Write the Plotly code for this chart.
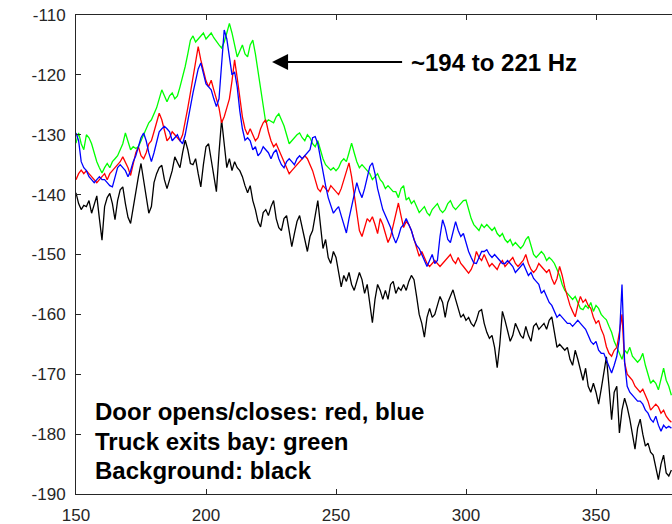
import plotly.graph_objects as go

# Frequency grid (Hz), one reading per Hz
freq = list(range(150, 380))

# Background spectrum (dB)
background = [
    -139.7, -141.5, -142.5, -141.8, -142.0, -141.0, -143.1, -141.5, -140.2, -144.0,
    -147.6, -142.0, -140.5, -139.8, -141.5, -144.2, -141.0, -139.2, -138.7, -141.5,
    -143.8, -144.8, -142.0, -140.0, -137.0, -134.8, -137.5, -140.5, -143.1, -142.0,
    -138.0, -136.5, -135.5, -135.1, -137.5, -139.0, -137.5, -136.0, -133.7, -134.5,
    -135.5, -133.0, -130.9, -132.5, -134.8, -135.0, -134.0, -136.5, -138.7, -135.0,
    -132.0, -131.5, -134.0, -136.5, -139.5, -133.0, -127.5, -131.5, -135.5, -134.0,
    -136.0, -134.5, -135.5, -136.0, -137.0, -138.5, -139.7, -138.5, -141.0, -142.5,
    -144.5, -145.4, -143.0, -142.5, -143.5, -142.0, -141.0, -144.0, -145.5, -146.0,
    -144.0, -143.5, -146.0, -148.7, -146.5, -144.5, -143.5, -145.5, -147.5, -149.5,
    -147.0, -146.0, -143.5, -141.0, -145.0, -149.0, -147.5, -150.5, -151.5, -149.5,
    -150.5, -153.0, -155.4, -153.5, -154.5, -153.0, -155.0, -156.0, -154.5, -153.0,
    -154.2, -156.5, -155.0, -158.0, -161.4, -157.5, -155.0, -156.0, -157.5, -156.0,
    -157.5, -155.0, -154.5, -156.5, -155.5, -156.0, -155.0, -156.0, -154.5, -153.5,
    -154.2, -157.0, -160.0, -161.5, -163.8, -160.5, -159.0, -160.5, -160.0, -158.5,
    -157.0, -158.0, -160.5, -158.0, -157.0, -155.9, -157.5, -159.0, -160.5, -160.0,
    -161.0, -160.5, -161.5, -162.0, -161.0, -159.5, -159.2, -161.5, -163.0, -164.0,
    -163.5, -165.5, -168.9, -165.0, -159.5, -161.0, -163.0, -164.5, -163.5, -161.5,
    -162.5, -163.5, -164.0, -162.0, -163.5, -164.5, -162.0, -161.5, -162.5, -162.0,
    -161.5, -162.5, -161.0, -160.4, -163.0, -165.5, -165.0, -165.5, -166.0, -165.5,
    -167.5, -168.5, -166.0, -167.5, -169.5, -171.0, -169.0, -172.0, -173.0, -171.5,
    -173.0, -175.0, -172.5, -170.0, -167.1, -172.0, -177.6, -173.0, -172.0, -179.8,
    -176.0, -174.0, -175.5, -177.5, -180.0, -182.5, -179.0, -177.5, -180.0, -182.0,
    -181.5, -183.0, -183.5, -185.5, -187.6, -185.0, -183.5, -186.5, -187.0, -186.0,
]

# Truck exiting the bay (dB)
truck = [
    -131.4, -129.7, -131.5, -132.5, -130.0, -130.5, -131.5, -133.0, -134.5, -135.5,
    -136.4, -135.5, -134.8, -135.5, -134.5, -134.0, -133.5, -132.5, -131.5, -129.7,
    -131.0, -132.5, -132.0, -132.3, -132.0, -131.0, -129.8, -129.0, -128.0, -127.5,
    -126.5, -125.5, -124.0, -122.5, -123.5, -124.5, -123.5, -123.0, -124.0, -123.5,
    -122.0, -120.5, -118.6, -116.5, -114.2, -113.5, -114.5, -114.0, -113.5, -113.0,
    -114.0, -113.5, -113.0, -113.8, -114.5, -115.0, -115.5, -114.5, -113.0, -111.4,
    -113.0, -115.0, -117.0, -116.0, -115.0, -116.5, -117.0, -115.0, -114.2, -116.5,
    -119.5, -122.0, -125.5, -128.0, -127.5, -127.8, -128.0, -127.0, -126.5, -127.5,
    -128.5, -130.0, -131.5, -131.0, -130.5, -130.0, -129.7, -130.5, -131.0, -130.0,
    -130.5, -131.5, -132.0, -131.0, -132.5, -134.0, -135.0, -135.5, -135.9, -135.5,
    -136.0, -135.5, -134.5, -134.0, -134.5, -133.0, -131.4, -133.0, -134.5, -135.5,
    -135.0, -135.5, -136.0, -136.5, -137.5, -137.0, -136.5, -137.5, -138.0, -139.0,
    -138.5, -139.0, -139.5, -139.5, -140.5, -139.0, -138.5, -140.9, -140.5, -141.5,
    -141.0, -142.0, -143.0, -142.5, -142.0, -143.0, -143.5, -142.5, -142.0, -141.5,
    -142.5, -143.0, -142.5, -141.5, -141.0, -142.0, -142.5, -142.0, -141.5, -141.0,
    -140.9, -142.5, -144.0, -145.0, -145.5, -146.0, -145.0, -145.5, -145.0, -145.5,
    -146.0, -145.5, -146.5, -147.0, -146.5, -147.5, -148.0, -147.5, -148.5, -148.0,
    -148.5, -149.0, -148.5, -147.5, -147.0, -148.5, -150.0, -150.5, -150.0, -149.5,
    -150.0, -151.0, -150.5, -150.9, -151.5, -152.6, -153.5, -155.0, -156.0, -156.5,
    -157.0, -157.5, -157.0, -158.0, -159.0, -159.2, -158.5, -159.0, -158.0, -159.5,
    -158.5, -159.0, -160.0, -160.5, -160.9, -162.0, -163.0, -164.5, -165.4, -166.5,
    -167.5, -166.0, -166.5, -165.5, -167.0, -167.6, -168.0, -167.5, -166.5, -168.5,
    -170.0, -171.5, -171.0, -171.5, -172.6, -170.5, -169.0, -171.0, -172.0, -173.5,
]

# Door opening/closing, first event (dB)
door_red = [
    -137.5, -136.5, -135.9, -136.5, -136.0, -136.5, -137.0, -137.5, -138.0, -137.5,
    -137.0, -136.5, -137.5, -136.5, -136.0, -135.5, -135.0, -134.5, -133.7, -134.5,
    -135.5, -136.8, -135.0, -133.0, -132.0, -133.5, -134.0, -133.0, -131.5, -131.0,
    -129.5, -128.0, -126.4, -127.5, -129.5, -131.0, -130.5, -129.5, -130.0, -130.5,
    -131.0, -130.0, -128.0, -125.5, -123.0, -120.5, -118.5, -115.3, -117.5, -119.5,
    -121.0, -122.0, -120.9, -122.5, -124.0, -125.5, -128.0, -127.0, -125.5, -124.0,
    -121.0, -117.5, -120.5, -124.0, -127.0, -129.0, -130.0, -129.0, -130.0, -131.0,
    -130.5, -129.0, -128.0, -127.5, -129.5, -131.0, -132.0, -131.5, -132.5, -133.5,
    -134.5, -135.5, -136.5, -136.0, -135.5, -135.0, -134.5, -134.0, -133.5, -134.0,
    -135.0, -136.0, -137.5, -139.0, -139.5, -138.5, -139.0, -139.5, -138.5, -139.0,
    -139.5, -140.0, -139.0, -137.5, -136.0, -134.7, -137.0, -140.0, -143.5, -146.0,
    -147.0, -145.5, -144.0, -144.5, -143.7, -145.0, -146.5, -144.0, -145.0, -146.5,
    -148.0, -147.0, -145.0, -143.0, -141.4, -143.5, -145.5, -144.5, -145.0, -146.0,
    -147.5, -149.0, -150.3, -149.5, -150.5, -151.5, -152.0, -151.5, -151.0, -151.5,
    -152.0, -151.5, -151.0, -150.5, -150.0, -151.0, -151.5, -150.5, -151.5, -152.0,
    -152.5, -153.1, -152.5, -151.4, -149.5, -150.5, -151.0, -150.0, -151.0, -152.0,
    -151.5, -152.0, -152.5, -151.5, -151.0, -152.0, -151.5, -151.0, -150.5, -151.5,
    -152.0, -151.5, -151.0, -150.0, -151.5, -152.5, -153.0, -152.5, -151.5, -152.0,
    -152.5, -153.0, -152.5, -154.0, -155.0, -154.0, -152.0, -153.5, -155.5, -157.0,
    -158.5, -159.5, -160.4, -158.5, -157.0, -158.0, -157.5, -158.5, -159.0, -160.5,
    -161.5, -161.0, -162.5, -163.5, -165.4, -166.5, -167.0, -166.0, -165.5, -163.0,
    -160.0, -168.0, -170.0, -170.5, -171.0, -172.0, -172.5, -173.0, -172.5, -173.5,
    -174.5, -176.0, -175.5, -175.0, -175.5, -176.5, -176.0, -177.0, -177.6, -178.0,
]

# Door opening/closing, second event (dB)
door_blue = [
    -129.7, -131.0, -134.5, -135.5, -136.0, -137.0, -137.5, -138.0, -137.5, -137.0,
    -137.5, -137.5, -138.0, -138.5, -138.7, -137.0, -135.5, -135.0, -135.5, -136.0,
    -137.0, -136.0, -134.5, -133.5, -132.0, -130.5, -129.7, -131.0, -133.0, -134.5,
    -133.0, -131.0, -129.5, -129.0, -128.6, -129.0, -129.5, -131.0, -130.5, -130.0,
    -131.0, -131.5, -130.0, -127.5, -125.0, -123.0, -121.0, -119.0, -118.0, -120.0,
    -121.5, -122.0, -122.5, -124.0, -125.3, -124.0, -118.0, -112.5, -114.0, -117.0,
    -120.0, -119.5, -122.0, -126.0, -129.0, -130.9, -130.5, -131.0, -132.5, -132.0,
    -133.5, -133.0, -132.0, -132.5, -133.0, -134.0, -133.0, -132.5, -134.0, -135.0,
    -135.5, -134.5, -134.0, -134.5, -135.0, -134.0, -133.5, -134.0, -133.5, -133.0,
    -132.5, -130.5, -130.3, -131.5, -134.0, -136.5, -138.5, -140.5, -142.0, -143.1,
    -142.5, -142.0, -143.5, -145.0, -146.4, -144.0, -142.0, -139.5, -138.0, -139.5,
    -140.5, -139.0, -137.0, -135.3, -134.7, -136.5, -139.0, -141.0, -142.5, -143.5,
    -144.5, -145.5, -147.0, -148.1, -147.0, -145.5, -145.0, -144.0, -145.0, -146.0,
    -147.5, -148.5, -149.0, -150.0, -151.0, -152.0, -151.0, -150.0, -151.5, -151.0,
    -147.0, -144.2, -145.5, -147.5, -148.0, -146.0, -144.5, -146.0, -147.0, -146.5,
    -148.0, -149.5, -150.5, -151.4, -151.5, -150.5, -149.5, -149.5, -149.2, -150.0,
    -150.5, -150.0, -150.5, -151.0, -151.5, -151.5, -151.0, -151.5, -152.0, -153.0,
    -152.5, -152.0, -151.5, -152.5, -153.5, -153.0, -154.0, -154.5, -155.0, -156.5,
    -156.0, -157.0, -158.0, -158.5, -159.5, -160.5, -160.0, -160.5, -161.0, -161.5,
    -161.5, -162.0, -161.5, -161.0, -161.5, -162.0, -162.5, -163.5, -164.5, -165.0,
    -164.5, -166.0, -166.5, -166.5, -167.5, -168.5, -169.8, -168.5, -167.0, -164.0,
    -155.0, -168.0, -172.0, -173.0, -173.5, -174.0, -174.5, -174.5, -175.0, -176.0,
    -176.5, -177.5, -178.0, -177.0, -178.5, -179.5, -178.5, -179.0, -178.7, -179.0,
]

x_ticks = [150, 200, 250, 300, 350]
y_ticks = [-190, -180, -170, -160, -150, -140, -130, -120, -110]
y_tick_text = ["-190", "-180", "-170", "-160", "-150", "-140", "-130", "-120", "-110"]

legend_lines = [
    "Door opens/closes: red, blue",
    "Truck exits bay: green",
    "Background: black",
]
band_label = "~194 to 221 Hz"

AXIS_COLOR = "#262626"
FONT = "Liberation Sans"

fig = go.Figure()
for ys, col in [(background, "#000000"), (truck, "#00ff00"),
                (door_red, "#ff0000"), (door_blue, "#0000ff")]:
    fig.add_trace(go.Scatter(x=freq, y=ys, mode="lines",
                             line=dict(color=col, width=1.3),
                             showlegend=False, hoverinfo="skip"))

# Arrow pointing at the highlighted band, and its label
fig.add_annotation(x=225.4, y=-117.85, ax=276.0, ay=-117.85,
                   xref="x", yref="y", axref="x", ayref="y",
                   text="", showarrow=True, arrowhead=2, arrowsize=1.6,
                   arrowwidth=2, arrowcolor="#000000")
fig.add_annotation(x=278.2, y=-117.85, xref="x", yref="y",
                   text=band_label, showarrow=False, xanchor="left", yanchor="middle",
                   font=dict(family=FONT, size=24, color="#000000", weight="bold"))

# Three-line key in the lower-left corner
for txt, yv in zip(legend_lines, [-176.3, -181.2, -186.1]):
    fig.add_annotation(x=156.4, y=yv, xref="x", yref="y", text=txt,
                       showarrow=False, xanchor="left", yanchor="middle",
                       font=dict(family=FONT, size=24, color="#000000", weight="bold"))

fig.update_xaxes(range=[150, 379.23], tickvals=x_ticks, ticks="inside", ticklen=5,
                 tickcolor=AXIS_COLOR, showline=True, linecolor=AXIS_COLOR, linewidth=1,
                 mirror="ticks", showgrid=False, zeroline=False,
                 tickfont=dict(family=FONT, size=17, color=AXIS_COLOR),
                 ticklabelstandoff=6)
fig.update_yaxes(range=[-190, -110], tickvals=y_ticks, ticktext=y_tick_text,
                 ticks="inside", ticklen=5, tickcolor=AXIS_COLOR, showline=True,
                 linecolor=AXIS_COLOR, linewidth=1, mirror=False, showgrid=False,
                 zeroline=False, tickfont=dict(family=FONT, size=17, color=AXIS_COLOR),
                 ticklabelstandoff=6)

fig.update_layout(width=672, height=524, margin=dict(l=76, r=0, t=15, b=30),
                  paper_bgcolor="#ffffff", plot_bgcolor="#ffffff")

fig.write_html("out.html")
